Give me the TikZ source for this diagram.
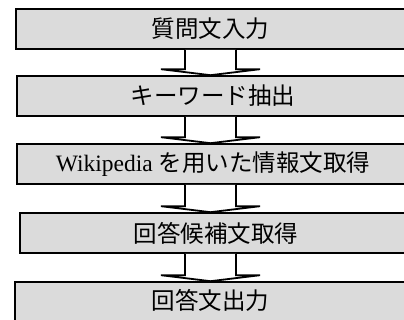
\documentclass[tikz,border=0pt]{standalone}
\usepackage{fontspec}
\setmainfont{Liberation Serif}
\newfontfamily\cjk{Noto Sans CJK JP}
\usetikzlibrary{calc}
\tikzset{
  procbox/.style={draw=black, line width=1.6pt, fill=black!14, rectangle,
    inner sep=0pt, minimum height=40pt},
  boxtext/.style={inner sep=0pt, font=\fontsize{23.5}{28}\selectfont},
  arrowshape/.style={draw=black, line width=1.8pt, fill=white, line join=miter}
}
\newcommand\flowarrow[2]{%
  \draw[arrowshape] ($(#1.south -| axis)+(-25.5,0)$) -- ($(#2.north -| axis)+(-25.5,-6)$)
    -- ($(#2.north -| axis)+(-49.5,-6)$) -- (#2.north -| axis) -- ($(#2.north -| axis)+(49.5,-6)$)
    -- ($(#2.north -| axis)+(25.5,-6)$) -- ($(#1.south -| axis)+(25.5,0)$);}
\begin{document}
\begin{tikzpicture}[x=1pt,y=-1pt]
\useasboundingbox (0,0) rectangle (404,320);
\clip (0,0) rectangle (404,320);
\coordinate (axis) at (210.5,0);
\node[procbox, minimum width=400pt] (b1) at (216,29) {};
\node[procbox, minimum width=399pt] (b2) at (216.5,96) {};
\node[procbox, minimum width=399pt] (b3) at (216.5,164) {};
\node[procbox, minimum width=396pt] (b4) at (218,233) {};
\node[procbox, minimum width=401pt] (b5) at (215.5,302) {};
\node[boxtext] (t1) at (210.5,29) {\cjk 質問文入力};
\node[boxtext] (t2) at (213,96) {\cjk キーワード抽出};
\node[boxtext] (t3) at (213,164) {Wikipedia {\cjk を用いた情報文取得}};
\node[boxtext] (t4) at (216,233) {\cjk 回答候補文取得};
\node[boxtext] (t5) at (210.5,300) {\cjk 回答文出力};
\flowarrow{b1}{b2}
\flowarrow{b2}{b3}
\flowarrow{b3}{b4}
\flowarrow{b4}{b5}
\end{tikzpicture}
\end{document}
